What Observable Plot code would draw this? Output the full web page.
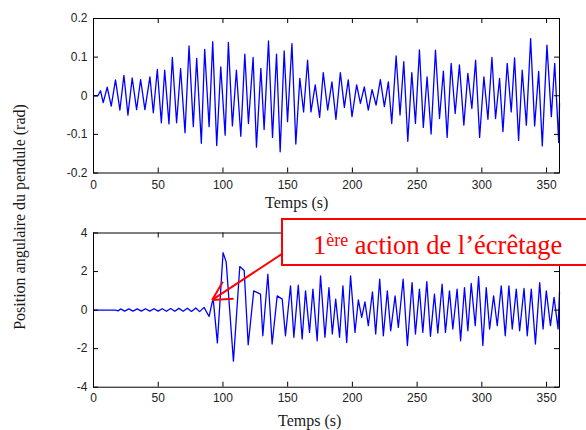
<!DOCTYPE html>
<html>
<head>
<meta charset="utf-8">
<script src="https://cdn.jsdelivr.net/npm/d3@7"></script>
<script src="https://cdn.jsdelivr.net/npm/@observablehq/plot@0.6"></script>
<style>
  body { margin: 0; background: #fff; }
  #wrap { position: relative; width: 586px; height: 430px; overflow: hidden; background: #fff; }
  #wrap svg { position: absolute; left: 0; }
  .serif { position: absolute; font-family: "Liberation Serif", "Times New Roman", serif; color: #1a1a1a; line-height: 1; white-space: nowrap; }
  #ylab { font-size: 16px; left: 19.5px; top: 216.5px; transform: translate(-50%, -50%) rotate(-90deg); }
  .xlab { font-size: 16px; }
  #box { position: absolute; left: 281px; top: 218px; width: 330px; height: 48px; box-sizing: border-box; border: 2px solid #ff0000; background: #fff; }
  #boxtext { position: absolute; left: 30px; top: 12px; font-family: "Liberation Serif", "Times New Roman", serif; font-size: 26.5px; line-height: 1; color: #ff0000; white-space: nowrap; }
  #boxtext sup { font-size: 18px; position: relative; top: -1px; vertical-align: top; }
</style>
</head>
<body>
<div id="wrap"></div>
<script>
// ---------- data ----------
const xTicks = [0, 50, 100, 150, 200, 250, 300, 350];
const xTickLabels = ["0", "50", "100", "150", "200", "250", "300", "350"];
const topYTicks = [-0.2, -0.1, 0, 0.1, 0.2];
const topYTickLabels = ["-0.2", "-0.1", "0", "0.1", "0.2"];
const botYTicks = [-4, -2, 0, 2, 4];
const botYTickLabels = ["-4", "-2", "0", "2", "4"];

const xLabel = "Temps (s)";
const yLabel = "Position angulaire du pendule (rad)";
const annotationMain = "1";
const annotationSup = "ère";
const annotationRest = " action de l’écrêtage";

// top panel: position (rad) vs time (s)
const topTime = [0, 3.4, 5.4, 7.5, 10.6, 13.7, 17.0, 20.4, 23.5, 26.6, 29.9, 33.3, 36.4, 39.7, 43.6, 46.2, 49.3, 52.4, 55.0, 58.3,
  60.9, 64.2, 67.3, 70.7, 73.8, 77.1, 79.7, 83.3, 85.9, 89.3, 92.1, 95.2, 98.3, 101.7, 104.2, 107.3, 110.4, 113.8, 116.9, 119.7,
  123.3, 125.9, 129.3, 131.8, 135.2, 138.3, 141.4, 144.2, 147.3, 149.9, 153.3, 156.3, 159.4, 162.3, 165.4, 168.0, 171.3, 174.7, 177.5, 180.9,
  184.2, 187.3, 190.7, 193.8, 196.8, 199.7, 203.3, 206.2, 209.2, 212.3, 215.2, 218.3, 221.6, 224.7, 227.8, 230.4, 233.8, 236.8, 239.7, 242.8,
  245.9, 248.7, 251.8, 254.8, 257.7, 260.8, 264.2, 267.3, 270.3, 273.2, 276.3, 279.4, 282.7, 286.1, 289.2, 292.3, 295.2, 298.3, 301.6, 304.7,
  307.8, 310.6, 313.7, 316.3, 319.6, 322.7, 325.3, 328.4, 331.2, 334.4, 337.7, 340.8, 343.9, 346.7, 350.3, 353.7, 356.3, 359.4, 360];
const topAngle = [0, 0, 0.013, -0.018, 0.022, -0.027, 0.041, -0.037, 0.053, -0.050, 0.046, -0.036, 0.042, -0.036, 0.049, -0.044, 0.068, -0.070, 0.066, -0.073,
  0.099, -0.070, 0.070, -0.096, 0.129, -0.080, 0.097, -0.123, 0.120, -0.080, 0.140, -0.129, 0.075, -0.102, 0.138, -0.078, 0.066, -0.105, 0.108, -0.072,
  0.099, -0.133, 0.071, -0.087, 0.142, -0.108, 0.108, -0.145, 0.116, -0.067, 0.135, -0.125, 0.045, -0.042, 0.092, -0.042, 0.028, -0.056, 0.060, -0.037,
  0.036, -0.061, 0.060, -0.030, 0.041, -0.054, 0.028, -0.020, 0.023, -0.037, 0.016, -0.024, 0.042, -0.028, 0.036, -0.072, 0.103, -0.050, 0.088, -0.118,
  0.060, -0.072, 0.119, -0.082, 0.049, -0.099, 0.118, -0.059, 0.064, -0.108, 0.084, -0.046, 0.080, -0.076, 0.058, -0.033, 0.092, -0.108, 0.049, -0.061,
  0.099, -0.059, 0.045, -0.093, 0.084, -0.042, 0.098, -0.116, 0.066, -0.076, 0.148, -0.078, 0.063, -0.130, 0.131, -0.054, 0.084, -0.121, -0.02];

// bottom panel: position (rad) vs time (s), with clipping action
const botTime = [0, 17.0, 19.0, 20.9, 24.1, 27.3, 30.5, 33.8, 37.0, 40.2, 43.5, 46.7, 49.9, 53.1, 56.4, 59.6, 62.8, 66.0, 69.3, 72.5,
  75.7, 79.0, 82.0, 85.4, 89.3, 92.4, 95.7, 100.1, 102.5, 108.1, 113.0, 116.4, 119.5, 123.8, 129.0, 130.8, 134.7, 138.0, 141.9, 145.8,
  148.3, 152.2, 154.8, 158.2, 161.2, 163.8, 166.9, 169.5, 172.8, 175.4, 178.8, 181.9, 184.5, 187.1, 190.1, 192.7, 195.6, 198.6, 202.0, 204.6,
  207.2, 209.7, 212.3, 215.5, 218.0, 221.1, 223.9, 227.0, 229.6, 233.0, 235.5, 239.2, 242.5, 246.1, 248.7, 251.8, 254.4, 257.5, 260.3, 263.4,
  266.0, 269.3, 271.9, 275.0, 277.6, 280.9, 283.6, 286.6, 289.2, 291.8, 294.9, 297.5, 300.8, 303.4, 306.0, 309.1, 311.9, 315.0, 318.1, 320.9,
  323.5, 326.6, 329.2, 332.6, 335.1, 338.2, 341.4, 344.7, 347.3, 349.8, 353.0, 355.8, 358.9, 360];
const botAngle = [0, 0, -0.04, 0.06, -0.05, 0.06, -0.05, 0.06, -0.05, 0.07, -0.05, 0.07, -0.05, 0.07, -0.06, 0.08, -0.06, 0.09, -0.06, 0.10,
  -0.07, 0.11, -0.08, 0.14, -0.33, 0.62, -1.7, 2.98, 2.5, -2.65, 2.26, 2.05, -1.8, 1.0, 0.83, -1.33, 1.86, -1.76, 0.74, 0.57,
  -1.33, 1.26, -1.41, 1.29, -1.5, 1.0, -1.16, 1.09, -1.59, 1.78, -1.41, 1.17, -1.24, 0.57, -1.41, 1.26, -1.68, 1.78, -1.16, 0.53,
  -0.38, 0.43, -0.81, 0.95, -1.24, 1.6, -1.33, 1.0, -1.07, 0.74, -0.9, 1.6, -1.84, 1.43, -1.24, 1.09, -1.16, 1.48, -1.36, 0.83,
  -1.19, 1.34, -1.16, 1.0, -0.98, 1.09, -1.59, 1.17, -1.07, 1.38, -0.81, 1.74, -1.84, 1.17, -0.98, 0.74, -0.81, 1.26, -1.33, 1.26,
  -0.98, 1.09, -1.07, 1.12, -1.33, 1.09, -1.76, 1.43, -0.98, 1.0, -0.81, 0.66, -0.98, 0.95];

// annotation arrow (data coordinates of the bottom panel)
const arrowStart = {t: 145.3, v: 2.9};
const arrowTip = {t: 91.7, v: 0.53};
const arrowHead1 = {t: 99.9, v: 1.47};
const arrowHead2 = {t: 108.2, v: 0.59};

// ---------- drawing ----------
const W = 586, ML = 93, MR = 27;
const innerW = W - ML - MR;
const TICK = 5;

function panel({time, value, yDomain, yTicks, yLabels, height, marginTop, marginBottom, xPad, extra = []}) {
  const innerH = height - marginTop - marginBottom;
  const rows = time.map((t, i) => ({t, v: value[i]}));
  return Plot.plot({
    width: W, height,
    marginLeft: ML, marginRight: MR, marginTop, marginBottom,
    x: {domain: [0, 360]},
    y: {domain: yDomain},
    style: {fontFamily: "'Liberation Sans', Arial, sans-serif", fontSize: "12px", color: "#222", background: "white", overflow: "visible"},
    marks: [
      Plot.line(rows, {x: "t", y: "v", stroke: "#0000ff", strokeWidth: 1.3}),
      Plot.frame({stroke: "black", strokeWidth: 1}),
      Plot.ruleX(xTicks, {x: d => d, insetTop: innerH - TICK, stroke: "black"}),
      Plot.ruleX(xTicks, {x: d => d, insetBottom: innerH - TICK, stroke: "black"}),
      Plot.ruleY(yTicks, {y: d => d, insetRight: innerW - TICK, stroke: "black"}),
      Plot.ruleY(yTicks, {y: d => d, insetLeft: innerW - TICK, stroke: "black"}),
      Plot.axisX({ticks: xTicks, tickSize: 0, tickPadding: xPad, tickFormat: d => xTickLabels[xTicks.indexOf(d)], label: null}),
      Plot.axisY({ticks: yTicks, tickSize: 0, tickPadding: 6, tickFormat: d => yLabels[yTicks.indexOf(d)], label: null}),
      ...extra
    ]
  });
}

const wrap = document.getElementById("wrap");

const topPlot = panel({
  time: topTime, value: topAngle, yDomain: [-0.2, 0.2], yTicks: topYTicks, yLabels: topYTickLabels,
  height: 210, marginTop: 18, marginBottom: 37.5, xPad: 7
});
topPlot.style.top = "0px";
wrap.appendChild(topPlot);

const arrowLinks = [
  {x1: arrowStart.t, y1: arrowStart.v, x2: arrowTip.t, y2: arrowTip.v},
  {x1: arrowTip.t, y1: arrowTip.v, x2: arrowHead1.t, y2: arrowHead1.v},
  {x1: arrowTip.t, y1: arrowTip.v, x2: arrowHead2.t, y2: arrowHead2.v}
];

const botPlot = panel({
  time: botTime, value: botAngle, yDomain: [-4, 4], yTicks: botYTicks, yLabels: botYTickLabels,
  height: 220, marginTop: 22.5, marginBottom: 43.3, xPad: 6,
  extra: [Plot.link(arrowLinks, {x1: "x1", y1: "y1", x2: "x2", y2: "y2", stroke: "#ff0000", strokeWidth: 2})]
});
botPlot.style.top = "210px";
wrap.appendChild(botPlot);

// labels
const yl = document.createElement("div");
yl.id = "ylab"; yl.className = "serif"; yl.textContent = yLabel;
wrap.appendChild(yl);

const xl1 = document.createElement("div");
xl1.className = "serif xlab"; xl1.textContent = xLabel;
xl1.style.left = "265px"; xl1.style.top = "194.5px";
wrap.appendChild(xl1);

const xl2 = document.createElement("div");
xl2.className = "serif xlab"; xl2.textContent = xLabel;
xl2.style.left = "278px"; xl2.style.top = "412.5px";
wrap.appendChild(xl2);

// annotation box
const box = document.createElement("div");
box.id = "box";
const bt = document.createElement("div");
bt.id = "boxtext";
bt.appendChild(document.createTextNode(annotationMain));
const sup = document.createElement("sup");
sup.textContent = annotationSup;
bt.appendChild(sup);
bt.appendChild(document.createTextNode(annotationRest));
box.appendChild(bt);
wrap.appendChild(box);
</script>
</body>
</html>
